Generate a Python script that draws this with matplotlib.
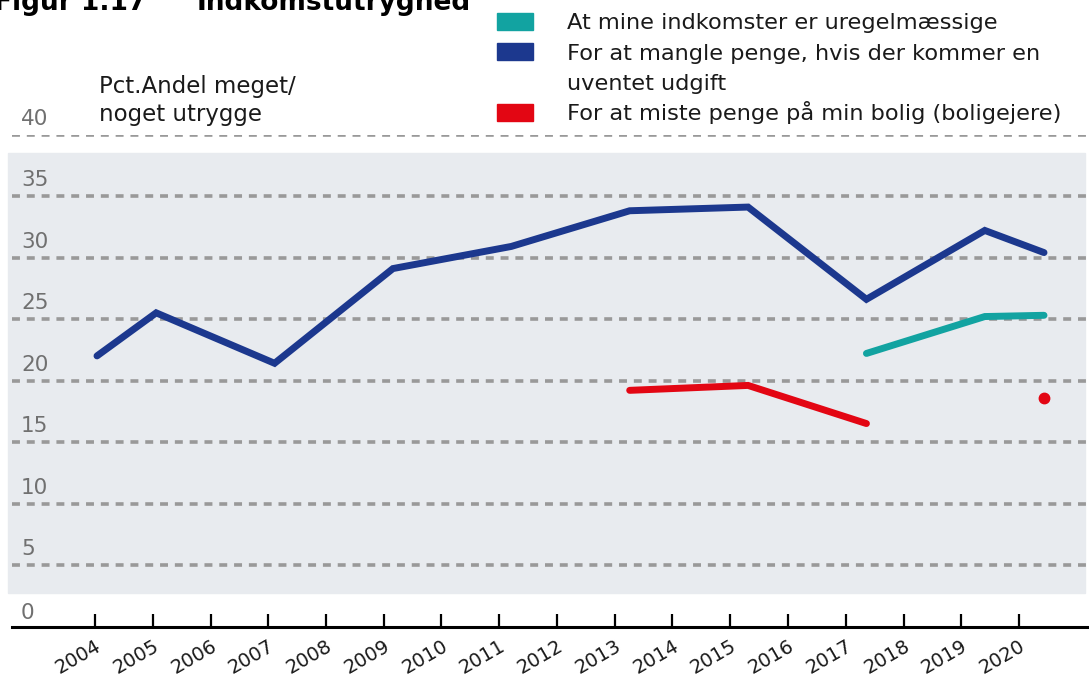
import numpy as np
import matplotlib.pyplot as plt
from matplotlib.patches import Rectangle

plt.rcParams['font.family'] = ['DejaVu Sans']

# data
years_blue = [2004, 2005, 2007, 2009, 2011, 2013, 2015, 2017, 2019, 2020]
blue_vals = [22.0, 25.5, 21.4, 29.1, 30.9, 33.8, 34.1, 26.6, 32.2, 30.4]
years_teal = [2017, 2019, 2020]
teal_vals = [22.2, 25.2, 25.3]
years_red = [2013, 2015, 2017]
red_vals = [19.2, 19.6, 16.5]
year_red_dot = [2020]
red_dot_vals = [18.6]

tick_years = list(range(2004, 2021))
y_ticks = [0, 5, 10, 15, 20, 25, 30, 35, 40]

legend_labels = ['At mine indkomster er uregelmæssige',
                 'For at mangle penge, hvis der kommer en\nuventet udgift',
                 'For at miste penge på min bolig (boligejere)']

c_teal = '#12a3a1'
c_blue = '#1c388e'
c_red = '#e30613'
c_grid = '#999999'

W, H = 1089, 680
fig = plt.figure(figsize=(W / 100, H / 100), dpi=100)


def fx(px):
    return px / W


def fy(py):
    return 1 - py / H


# axes: value 0 at y=626.5 px, 40 at 134.5 px; 2004 at x=97, 2020 at x=1044
ax = fig.add_axes([0, fy(626.5), 1, (626.5 - 134.5) / H])
ppy = (1044 - 97) / 16
ax.set_xlim(2004 - 97 / ppy, 2020 + (W - 1044) / ppy)
ax.set_ylim(0, 40)
ax.set_facecolor('none')

# light band behind the plot
ax.axhspan(2.75, 38.5, xmin=8 / W, xmax=1085 / W, color='#e8ebef', zorder=0)

# dashed gridlines + value labels sitting just above them
for v in y_ticks[1:]:
    ax.axhline(v, xmin=12 / W, xmax=1, color=c_grid, lw=2.6,
               dashes=(2.2, 1.9), dash_capstyle='butt', zorder=1)
    ax.text(21 / W, v + 1.3, str(v), transform=ax.get_yaxis_transform(),
            fontsize=15.5, color='#707070', va='center', ha='left')
ax.text(21 / W, 1.1, '0', transform=ax.get_yaxis_transform(),
        fontsize=15.5, color='#707070', va='center', ha='left')

lw = 5
ax.plot(years_blue, blue_vals, color=c_blue, lw=lw, solid_capstyle='round',
        solid_joinstyle='miter', zorder=3)
ax.plot(years_teal, teal_vals, color=c_teal, lw=lw, solid_capstyle='round',
        solid_joinstyle='miter', zorder=3)
ax.plot(years_red, red_vals, color=c_red, lw=lw, solid_capstyle='round',
        solid_joinstyle='miter', zorder=3)
ax.plot(year_red_dot, red_dot_vals, 'o', color=c_red, ms=7.5, zorder=3)

# x axis: tick marks sit on a slightly tighter spacing than the data (as in the original)
tick_step = 57.75 / ppy
tick_pos = [2004 - 2 / ppy + (y - 2004) * tick_step for y in tick_years]
ax.set_xticks(tick_pos, [str(y) for y in tick_years], rotation=30, ha='right',
              va='top', rotation_mode='anchor', fontsize=14, color='#1a1a1a')
ax.tick_params(axis='x', direction='in', length=9.5, width=1.6, pad=7)
ax.set_yticks([])
for s in ['top', 'left', 'right']:
    ax.spines[s].set_visible(False)
ax.spines['bottom'].set_linewidth(2.2)
ax.spines['bottom'].set_bounds(2004 - 85 / ppy, ax.get_xlim()[1])

# axis title
fig.text(fx(99), fy(93), 'Pct.Andel meget/', fontsize=16.5, va='baseline', color='#1a1a1a')
fig.text(fx(99), fy(121), 'noget utrygge', fontsize=16.5, va='baseline', color='#1a1a1a')

# figure title, cut off at the top like in the source image
fig.text(fx(-6), fy(10), 'Figur 1.17', fontsize=19, fontweight='bold', va='baseline')
fig.text(fx(197), fy(10), 'Indkomstutryghed', fontsize=19, fontweight='bold', va='baseline')

# legend drawn by hand
leg_colors = [c_teal, c_blue, c_red]
leg_patch_top = [13, 43, 104]
leg_text_base = [29, 60, 120]
for col, top, base, lab in zip(leg_colors, leg_patch_top, leg_text_base, legend_labels):
    fig.patches.append(Rectangle((fx(497), fy(top + 17)), 36 / W, 17 / H,
                                 transform=fig.transFigure, color=col))
    for i, line in enumerate(lab.split('\n')):
        fig.text(fx(567), fy(base + 30.5 * i), line, fontsize=16.2,
                 va='baseline', color='#1a1a1a')

fig.savefig('out.png', dpi=100)
